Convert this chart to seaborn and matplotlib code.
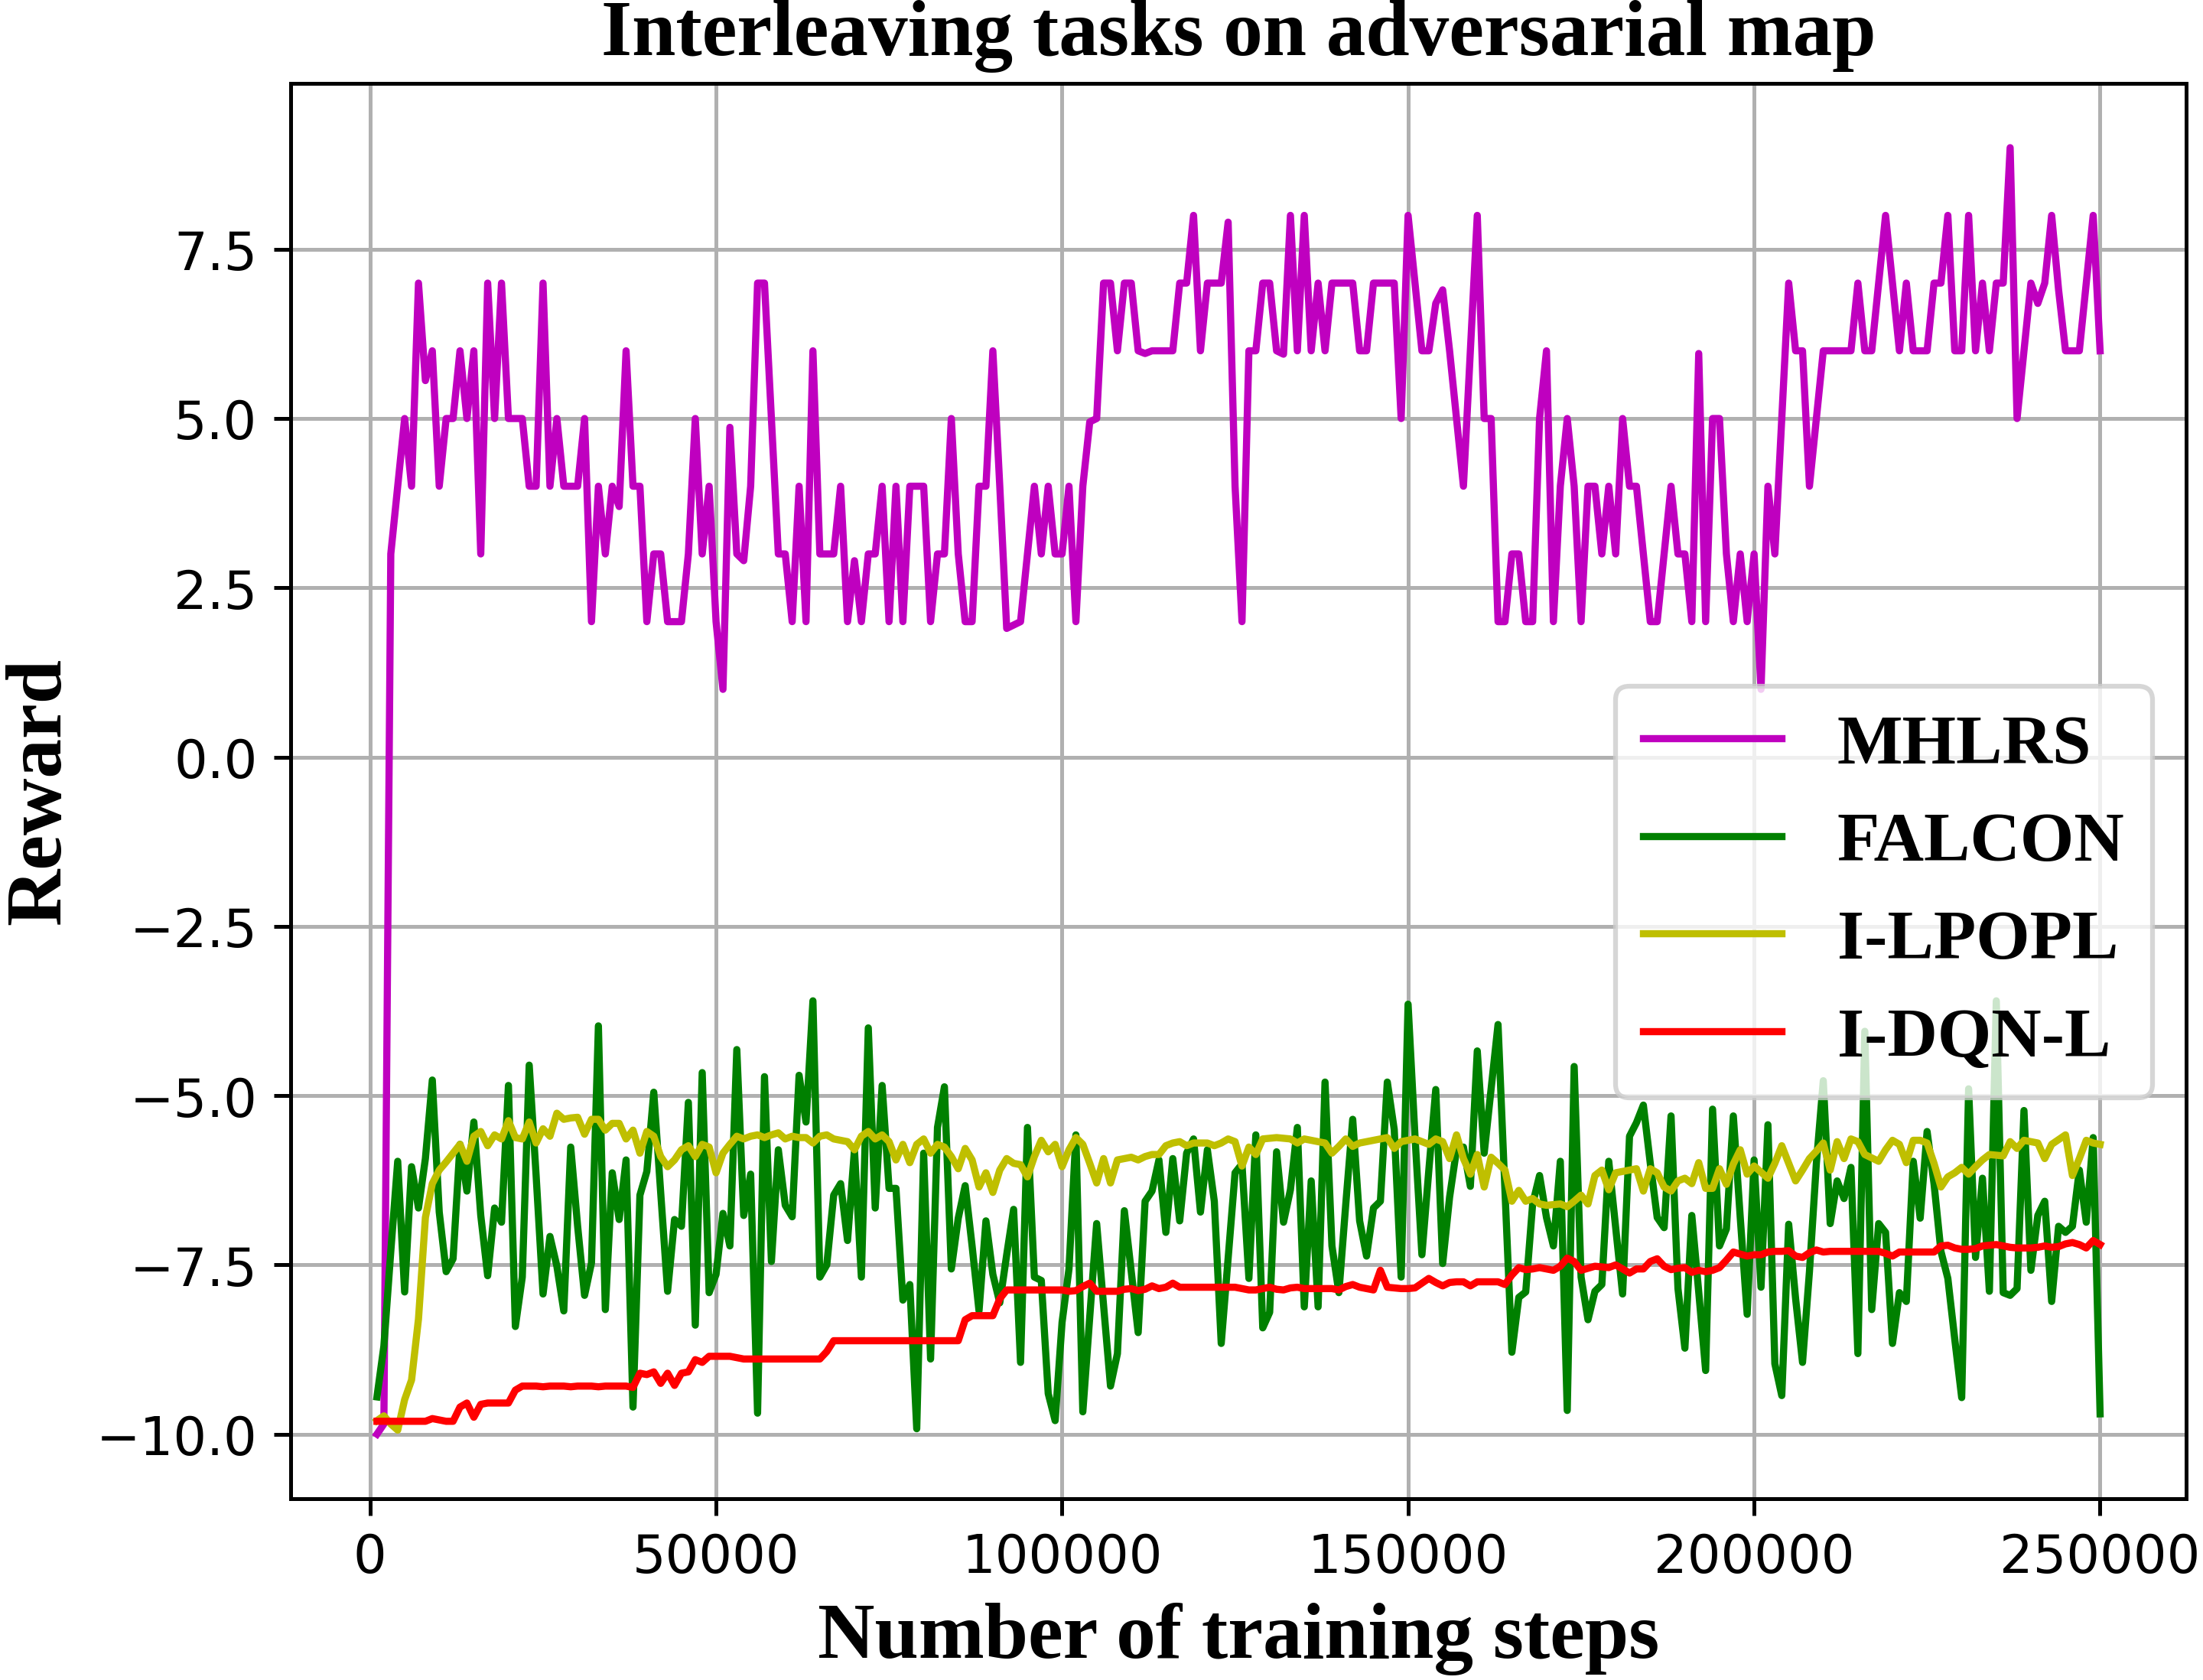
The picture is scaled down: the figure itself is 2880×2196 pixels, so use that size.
import numpy as np
import seaborn as sns
import matplotlib.pyplot as plt

# training steps, one sample every 1000 steps
steps = np.arange(1000, 251000, 1000)

mhlrs = [
    -10.0, -9.85, 3.0, 4.0, 5.0, 4.0, 7.0, 5.56, 6.0, 4.0,
    5.0, 5.0, 6.0, 5.0, 6.0, 3.0, 7.0, 5.0, 7.0, 5.0,
    5.0, 5.0, 4.0, 4.0, 7.0, 4.0, 5.0, 4.0, 4.0, 4.0,
    5.0, 2.0, 4.0, 3.0, 4.0, 3.7, 6.0, 4.0, 4.0, 2.0,
    3.0, 3.0, 2.0, 2.0, 2.0, 3.0, 5.0, 3.0, 4.0, 2.0,
    1.0, 4.87, 3.0, 2.9, 4.0, 7.0, 7.0, 5.0, 3.0, 3.0,
    2.0, 4.0, 2.0, 6.0, 3.0, 3.0, 3.0, 4.0, 2.0, 2.9,
    2.0, 3.0, 3.0, 4.0, 2.0, 4.0, 2.0, 4.0, 4.0, 4.0,
    2.0, 3.0, 3.0, 5.0, 3.0, 2.0, 2.0, 4.0, 4.0, 6.0,
    4.0, 1.9, 1.95, 2.0, 3.0, 4.0, 3.0, 4.0, 3.0, 3.0,
    4.0, 2.0, 4.0, 4.95, 5.0, 7.0, 7.0, 6.0, 7.0, 7.0,
    6.0, 5.96, 6.0, 6.0, 6.0, 6.0, 7.0, 7.0, 8.0, 6.0,
    7.0, 7.0, 7.0, 7.9, 4.0, 2.0, 6.0, 6.0, 7.0, 7.0,
    6.0, 5.95, 8.0, 6.0, 8.0, 6.0, 7.0, 6.0, 7.0, 7.0,
    7.0, 7.0, 6.0, 6.0, 7.0, 7.0, 7.0, 7.0, 5.0, 8.0,
    7.0, 6.0, 6.0, 6.7, 6.9, 6.0, 5.0, 4.0, 6.0, 8.0,
    5.0, 5.0, 2.0, 2.0, 3.0, 3.0, 2.0, 2.0, 5.0, 6.0,
    2.0, 4.0, 5.0, 4.0, 2.0, 4.0, 4.0, 3.0, 4.0, 3.0,
    5.0, 4.0, 4.0, 3.0, 2.0, 2.0, 3.0, 4.0, 3.0, 3.0,
    2.0, 5.96, 2.0, 5.0, 5.0, 3.0, 2.0, 3.0, 2.0, 3.0,
    1.0, 4.0, 3.0, 5.0, 7.0, 6.0, 6.0, 4.0, 5.0, 6.0,
    6.0, 6.0, 6.0, 6.0, 7.0, 6.0, 6.0, 7.0, 8.0, 7.0,
    6.0, 7.0, 6.0, 6.0, 6.0, 7.0, 7.0, 8.0, 6.0, 6.0,
    8.0, 6.0, 7.0, 6.0, 7.0, 7.0, 9.0, 5.0, 6.0, 7.0,
    6.7, 7.0, 8.0, 6.9, 6.0, 6.0, 6.0, 7.0, 8.0, 6.0,
]

falcon = [
    -9.45, -8.7, -7.3, -5.97, -7.9, -6.05, -6.66, -5.93, -4.77, -6.72,
    -7.6, -7.41, -5.72, -6.41, -5.39, -6.77, -7.66, -6.66, -6.87, -4.85,
    -8.41, -7.68, -4.55, -6.18, -7.93, -7.08, -7.52, -8.18, -5.76, -6.93,
    -7.95, -7.47, -3.97, -8.16, -6.14, -6.83, -5.95, -9.6, -6.47, -6.12,
    -4.95, -6.43, -7.89, -6.83, -6.93, -5.1, -8.39, -4.66, -7.91, -7.64,
    -6.74, -7.22, -4.32, -6.77, -6.16, -9.69, -4.72, -7.45, -5.8, -6.62,
    -6.79, -4.7, -5.39, -3.6, -7.68, -7.5, -6.47, -6.3, -7.14, -5.8,
    -7.68, -4.0, -6.66, -4.85, -6.37, -6.37, -8.02, -7.79, -9.92, -5.85,
    -8.89, -5.47, -4.87, -7.56, -6.81, -6.33, -7.22, -8.18, -6.85, -7.64,
    -8.06, -7.35, -6.68, -8.94, -5.47, -7.68, -7.73, -9.4, -9.8, -8.35,
    -7.56, -5.58, -9.67, -8.27, -6.89, -8.1, -9.29, -8.81, -6.7, -7.6,
    -8.5, -6.56, -6.41, -5.95, -7.02, -5.93, -6.85, -5.85, -5.64, -6.72,
    -5.8, -6.56, -8.66, -7.4, -6.14, -6.01, -7.7, -5.58, -8.43, -8.2,
    -5.83, -6.87, -6.39, -5.47, -8.12, -6.26, -8.12, -4.8, -7.22, -7.91,
    -6.6, -5.35, -6.85, -7.37, -6.66, -6.56, -4.8, -5.5, -7.68, -3.65,
    -5.6, -7.35, -6.1, -4.91, -7.48, -6.5, -5.8, -5.76, -6.34, -4.34,
    -5.85, -4.9, -3.95, -6.4, -8.79, -7.98, -7.9, -6.6, -6.18, -6.8,
    -7.22, -5.97, -9.65, -4.57, -7.68, -8.31, -7.89, -7.79, -5.97, -6.95,
    -7.93, -5.6, -5.4, -5.14, -6.0, -6.8, -6.95, -5.3, -7.85, -8.73,
    -6.77, -7.9, -9.06, -5.2, -7.22, -6.97, -5.3, -6.8, -8.23, -5.95,
    -7.83, -5.43, -8.96, -9.43, -6.9, -8.0, -8.94, -7.6, -6.0, -4.78,
    -6.89, -6.26, -6.52, -6.06, -8.81, -4.05, -8.16, -6.89, -7.02, -8.66,
    -7.91, -8.04, -5.97, -6.81, -5.53, -6.3, -7.3, -7.7, -8.6, -9.46,
    -4.9, -7.39, -6.22, -7.89, -3.6, -7.91, -7.95, -7.85, -5.22, -7.58,
    -6.77, -6.56, -8.04, -6.93, -7.02, -6.93, -6.1, -6.87, -5.62, -9.7,
]

ilpopl = [
    -9.8, -9.73, -9.85, -9.94, -9.49, -9.2, -8.3, -6.8, -6.3, -6.1,
    -5.98, -5.85, -5.72, -5.97, -5.6, -5.53, -5.74, -5.58, -5.64, -5.37,
    -5.62, -5.64, -5.39, -5.7, -5.49, -5.6, -5.26, -5.35, -5.33, -5.32,
    -5.57, -5.35, -5.35, -5.51, -5.41, -5.41, -5.64, -5.51, -5.85, -5.53,
    -5.6, -5.9, -6.05, -5.95, -5.8, -5.74, -5.9, -5.72, -5.76, -6.14,
    -5.85, -5.72, -5.6, -5.64, -5.6, -5.58, -5.62, -5.58, -5.55, -5.64,
    -5.6, -5.62, -5.62, -5.7, -5.6, -5.58, -5.64, -5.66, -5.68, -5.8,
    -5.6, -5.53, -5.64, -5.58, -5.68, -5.95, -5.72, -5.99, -5.72, -5.64,
    -5.85, -5.72, -5.76, -5.9, -6.08, -5.78, -5.95, -6.35, -6.14, -6.43,
    -6.1, -5.93, -6.0, -6.02, -6.2, -5.9, -5.66, -5.83, -5.72, -6.05,
    -5.8, -5.62, -5.72, -6.0, -6.29, -5.93, -6.29, -5.95, -5.93, -5.91,
    -5.95, -5.9, -5.87, -5.87, -5.74, -5.7, -5.68, -5.74, -5.7, -5.7,
    -5.7, -5.74, -5.7, -5.64, -5.68, -6.04, -5.76, -5.87, -5.64, -5.63,
    -5.62, -5.63, -5.64, -5.7, -5.64, -5.66, -5.68, -5.7, -5.85, -5.75,
    -5.64, -5.75, -5.7, -5.68, -5.66, -5.64, -5.62, -5.78, -5.68, -5.66,
    -5.64, -5.68, -5.72, -5.64, -5.68, -5.93, -5.58, -5.93, -6.16, -5.87,
    -6.35, -5.91, -6.0, -6.1, -6.56, -6.4, -6.56, -6.52, -6.6, -6.62,
    -6.61, -6.6, -6.64, -6.56, -6.47, -6.6, -6.18, -6.1, -6.39, -6.14,
    -6.12, -6.1, -6.08, -6.41, -6.08, -6.14, -6.35, -6.41, -6.26, -6.22,
    -6.3, -5.99, -6.37, -6.37, -6.08, -6.31, -6.01, -5.8, -6.16, -6.04,
    -6.13, -6.22, -6.0, -5.74, -6.0, -6.26, -6.1, -5.93, -5.82, -5.7,
    -6.1, -5.68, -5.93, -5.64, -5.68, -5.87, -5.92, -5.97, -5.8, -5.66,
    -5.72, -5.99, -5.66, -5.66, -5.7, -6.0, -6.35, -6.2, -6.14, -6.06,
    -6.16, -6.05, -5.95, -5.87, -5.88, -5.89, -5.68, -5.78, -5.66, -5.68,
    -5.7, -5.93, -5.72, -5.65, -5.58, -6.18, -5.93, -5.66, -5.7, -5.72,
]

idqnl = [
    -9.81, -9.81, -9.81, -9.81, -9.81, -9.81, -9.81, -9.81, -9.77, -9.79,
    -9.81, -9.81, -9.6, -9.54, -9.75, -9.56, -9.54, -9.54, -9.54, -9.54,
    -9.35, -9.29, -9.29, -9.29, -9.3, -9.29, -9.29, -9.29, -9.3, -9.29,
    -9.29, -9.29, -9.3, -9.29, -9.29, -9.29, -9.29, -9.31, -9.1, -9.12,
    -9.08, -9.25, -9.1, -9.28, -9.1, -9.08, -8.9, -8.94, -8.85, -8.85,
    -8.85, -8.85, -8.87, -8.89, -8.89, -8.89, -8.89, -8.89, -8.89, -8.89,
    -8.89, -8.89, -8.89, -8.89, -8.89, -8.78, -8.62, -8.62, -8.62, -8.62,
    -8.62, -8.62, -8.62, -8.62, -8.62, -8.62, -8.62, -8.62, -8.62, -8.62,
    -8.62, -8.62, -8.62, -8.62, -8.62, -8.31, -8.25, -8.25, -8.25, -8.25,
    -8.0, -7.87, -7.87, -7.87, -7.87, -7.87, -7.87, -7.87, -7.87, -7.87,
    -7.89, -7.88, -7.82, -7.77, -7.89, -7.89, -7.89, -7.89, -7.86, -7.85,
    -7.88, -7.86, -7.81, -7.85, -7.83, -7.77, -7.83, -7.83, -7.83, -7.83,
    -7.83, -7.83, -7.83, -7.83, -7.83, -7.85, -7.87, -7.87, -7.85, -7.83,
    -7.86, -7.87, -7.84, -7.83, -7.85, -7.85, -7.85, -7.85, -7.85, -7.87,
    -7.82, -7.79, -7.83, -7.85, -7.87, -7.58, -7.83, -7.84, -7.85, -7.85,
    -7.84, -7.77, -7.7, -7.76, -7.81, -7.76, -7.75, -7.75, -7.81, -7.75,
    -7.75, -7.75, -7.75, -7.79, -7.65, -7.54, -7.57, -7.56, -7.54, -7.56,
    -7.58, -7.52, -7.4, -7.45, -7.58, -7.55, -7.52, -7.53, -7.54, -7.5,
    -7.56, -7.62, -7.56, -7.56, -7.45, -7.41, -7.52, -7.57, -7.55, -7.54,
    -7.61, -7.58, -7.6, -7.58, -7.54, -7.43, -7.31, -7.34, -7.37, -7.35,
    -7.35, -7.31, -7.3, -7.3, -7.29, -7.37, -7.39, -7.32, -7.28, -7.31,
    -7.3, -7.3, -7.3, -7.3, -7.3, -7.3, -7.3, -7.3, -7.33, -7.37,
    -7.31, -7.31, -7.31, -7.31, -7.31, -7.31, -7.22, -7.21, -7.25, -7.27,
    -7.27, -7.26, -7.22, -7.21, -7.2, -7.22, -7.24, -7.25, -7.25, -7.25,
    -7.24, -7.22, -7.24, -7.23, -7.19, -7.17, -7.2, -7.25, -7.14, -7.2,
]

serif = "Liberation Serif"

fig = plt.figure(figsize=(6.4, 4.882), dpi=450)
ax = fig.add_axes([0.132, 0.108, 0.8604, 0.842])

sns.lineplot(x=steps, y=mhlrs, color="m", label="MHLRS", linewidth=1.5, ax=ax)
sns.lineplot(x=steps, y=falcon, color="g", label="FALCON", linewidth=1.5, ax=ax)
sns.lineplot(x=steps, y=ilpopl, color="y", label="I-LPOPL", linewidth=1.5, ax=ax)
sns.lineplot(x=steps, y=idqnl, color="r", label="I-DQN-L", linewidth=1.5, ax=ax)

ax.grid(True)
ax.tick_params(labelsize=11)
ax.set_title("Interleaving tasks on adversarial map", fontsize=16.5,
             fontweight="bold", family=serif)
ax.set_xlabel("Number of training steps", fontsize=16.5, fontweight="bold", family=serif)
ax.set_ylabel("Reward", fontsize=16.5, fontweight="bold", family=serif)

ax.legend(loc="upper right", bbox_to_anchor=(0.982, 0.574), borderaxespad=0,
          prop={"family": serif, "weight": "bold", "size": 14.5})

fig.savefig("out.png", dpi=450)
